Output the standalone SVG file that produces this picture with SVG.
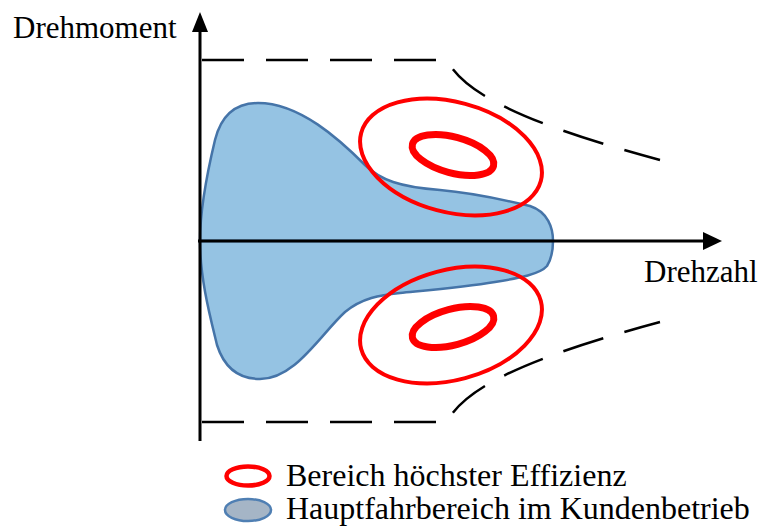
<svg xmlns="http://www.w3.org/2000/svg" width="764" height="528" viewBox="0 0 764 528">
<style>
.lbl{font-family:"Liberation Serif","Tinos","Times New Roman","DejaVu Serif",serif;font-size:31px;fill:#000}
.leg{font-family:"Liberation Serif","Tinos","Times New Roman","DejaVu Serif",serif;font-size:32px;fill:#000}
.lobe{fill:#95c3e3;stroke:#4574a8;stroke-width:2.5}
.eff{fill:none;stroke:#ff0000}
.lim{fill:none;stroke:#000;stroke-width:2.5;stroke-dasharray:42 22}
.axis{stroke:#000;stroke-width:3;fill:none}
</style>
<rect width="764" height="528" fill="#fff"/>
<g id="hauptfahrbereich">
<path class="lobe" d="M200,241 C200,205 209,165 215,140 C222,112 238,103 258,103 C300,103 340,140 365,165 C380,180 400,187 440,190 C475,193 505,200 530,206 C548,212 553,228 553,241 Z"/>
<path class="lobe" d="M200,241 C200,280 211,320 217,345 C225,370 240,379 260,379 C295,379 320,335 345,312 C362,298 380,295 400,293 C430,290 465,287 495,282 C520,278 540,274 547,266 C552,258 553,250 553,241 Z"/>
</g>
<g id="effizienz-oben">
<ellipse class="eff" cx="451" cy="157" rx="93" ry="55" stroke-width="4" transform="rotate(15 451 157)"/>
<ellipse class="eff" cx="453" cy="155" rx="42" ry="18" stroke-width="7" transform="rotate(15 453 155)"/>
</g>
<g id="effizienz-unten">
<ellipse class="eff" cx="451" cy="325" rx="93" ry="55" stroke-width="4" transform="rotate(-15 451 325)"/>
<ellipse class="eff" cx="453" cy="327" rx="42" ry="18" stroke-width="7" transform="rotate(-15 453 327)"/>
</g>
<g id="grenzlinien">
<path class="lim" d="M202,60 H447 C465,95 530,125 660,160"/>
<path class="lim" d="M202,422 H447 C465,387 530,357 660,322"/>
</g>
<g id="achsen">
<line class="axis" x1="200" y1="441" x2="200" y2="30"/>
<polygon points="200,12 192,32 208,32" fill="#000"/>
<line class="axis" x1="198" y1="241" x2="705" y2="241"/>
<polygon points="722,241 703,232 703,250" fill="#000"/>
</g>
<g id="labels">
<text class="lbl" x="13" y="38">Drehmoment</text>
<text class="lbl" x="644" y="282">Drehzahl</text>
</g>
<g id="legende">
<ellipse cx="248" cy="476" rx="21.5" ry="9.5" fill="none" stroke="#ff0000" stroke-width="4.5"/>
<ellipse cx="248" cy="510" rx="23" ry="11" fill="#a5b5c6" stroke="#4f7fb3" stroke-width="2.5"/>
<text class="leg" x="286" y="486">Bereich höchster Effizienz</text>
<text class="leg" x="286" y="519">Hauptfahrbereich im Kundenbetrieb</text>
</g>
</svg>
